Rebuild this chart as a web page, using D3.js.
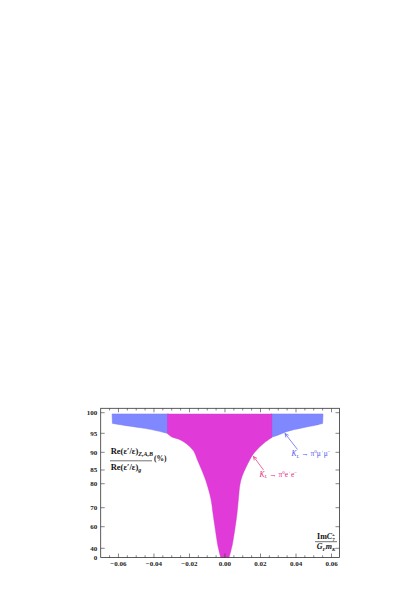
<!DOCTYPE html>
<html><head><meta charset="utf-8">
<script src="https://cdn.jsdelivr.net/npm/d3@7"></script>
<style>body{margin:0;background:#fff}svg{display:block}</style>
</head><body>
<script>
// ---- data ----
const xTicks = [-0.06,-0.04,-0.02,0,0.02,0.04,0.06];
const xTickLabels = ["\u22120.06","\u22120.04","\u22120.02","0.00","0.02","0.04","0.06"];
const yTicks = [100,95,90,85,80,70,60,40,0];
const yTickLabels = ["100","95","90","85","80","70","60","40","0"];
// K_L -> pi0 e+ e- region (magenta): lower boundary, left and right branches
const eeTop = 99.7;
const eeLeft = [[-0.0324,94.95],[-0.0302,94.1],[-0.0264,93.5],[-0.0227,92.6],[-0.0199,91.5],[-0.0174,90.15],[-0.0155,87.8],[-0.0131,85.0],[-0.0109,81.35],[-0.0092,77.4],[-0.0078,73.2],[-0.0068,67.2],[-0.0054,56.9],[-0.0041,43.1],[-0.0024,0]];
const eeRight = [[0.0264,93.9],[0.0214,92.2],[0.0158,89.4],[0.0120,85.9],[0.0097,82.8],[0.0084,79.5],[0.0077,74.6],[0.0068,67.1],[0.0055,56.9],[0.0041,43.1],[0.0023,0]];
// K_L -> pi0 mu+ mu- region (blue): lower boundary, outer parts
const mmTop = 99.7;
const mmLeft = [[-0.0634,97.4],[-0.0546,96.8],[-0.0452,96.2],[-0.0377,95.55],[-0.0318,94.9]];
const mmRight = [[0.0258,93.9],[0.0308,94.7],[0.0346,95.4],[0.0439,96.35],[0.0514,97.0],[0.0550,97.4]];

// ---- layout ----
const W=420,H=595;
const L=100.7,R=339.5,T=408.3,B=557.5,PH=B-T;
const svg=d3.select("body").append("svg").attr("width",W).attr("height",H);
const x=d3.scaleLinear().domain([-0.07,0.0645]).range([L,R]);
const yFrac=[0,0.0617,0.2064,0.3338,0.4946,0.5865,0.7051,0.8324,0.9705,1];
const y=d3.scaleLinear().domain([0,40,60,70,80,85,90,95,100,101.1]).range(yFrac.map(f=>B-f*PH));

const curve=d3.line().x(d=>x(d[0])).y(d=>y(d[1])).curve(d3.curveCatmullRom.alpha(0.5));
const cont=pts=>"L"+curve(pts).slice(1);

// blue regions
const bl = "M"+x(mmLeft[0][0]-0.0002)+","+y(mmTop)+"L"+x(mmLeft[mmLeft.length-1][0])+","+y(mmTop)
  + cont(mmLeft.slice().reverse()) + "Z";
const br = "M"+x(mmRight[0][0])+","+y(mmTop)+"L"+x(mmRight[mmRight.length-1][0]+0.0002)+","+y(mmTop)
  + cont(mmRight.slice().reverse()) + "Z";
[bl,br].forEach(d=>svg.append("path").attr("d",d).attr("fill","#8088ff").attr("stroke","#7279f2")
  .attr("stroke-width",0.5).attr("stroke-linejoin","round"));

const mg = "M"+x(eeLeft[0][0])+","+y(eeTop)+"L"+x(eeRight[0][0])+","+y(eeTop)
  + cont(eeRight) + cont(eeLeft.slice().reverse()) + "Z";
svg.append("path").attr("d",mg).attr("fill","#e03ad8").attr("stroke","#cc36c6").attr("stroke-width",0.4);

// frame
svg.append("rect").attr("x",L).attr("y",T).attr("width",R-L).attr("height",PH)
  .attr("fill","none").attr("stroke","#333").attr("stroke-width",0.8);

// ticks
const g=svg.append("g").attr("stroke","#333").attr("stroke-width",0.6);
const minor=d3.range(-0.07,0.0646,0.005);
minor.forEach(v=>{
  const isMaj = xTicks.some(t=>Math.abs(t-v)<1e-6);
  const len = isMaj?4:2.2;
  const px=x(v);
  if(px<L+0.5||px>R-0.5) return;
  g.append("line").attr("x1",px).attr("x2",px).attr("y1",B).attr("y2",B-len);
  g.append("line").attr("x1",px).attr("x2",px).attr("y1",T).attr("y2",T+len);
});
yTicks.forEach(v=>{
  const py=y(v);
  if(py>B-0.5) return;
  g.append("line").attr("x1",L).attr("x2",L+4).attr("y1",py).attr("y2",py);
  g.append("line").attr("x1",R).attr("x2",R-4).attr("y1",py).attr("y2",py);
});
const fnt="'Liberation Serif','DejaVu Serif',serif";
svg.append("g").selectAll("text").data(xTicks).join("text")
  .attr("x",d=>x(d)).attr("y",B+8.5).attr("text-anchor","middle")
  .attr("font-family",fnt).attr("font-size",7).attr("font-weight","bold").attr("fill","#222")
  .text((d,i)=>xTickLabels[i]);
svg.append("g").selectAll("text").data(yTicks).join("text")
  .attr("x",L-3.5).attr("y",d=>y(d)+2.3).attr("text-anchor","end")
  .attr("font-family",fnt).attr("font-size",7).attr("font-weight","bold").attr("fill","#222")
  .text((d,i)=>yTickLabels[i]);

// y axis label (fraction)
const yl=svg.append("g").attr("font-family",fnt).attr("fill","#111");
const num=yl.append("text").attr("x",110.7).attr("y",454).attr("font-size",8.5).attr("font-weight","bold");
num.append("tspan").text("Re(\u03b5\u2032/\u03b5)");
num.append("tspan").attr("dy",2).attr("font-size",6).attr("font-style","italic").text("Z,A,B");
yl.append("line").attr("x1",110).attr("x2",152).attr("y1",460.8).attr("y2",460.8).attr("stroke","#111").attr("stroke-width",0.6);
const den=yl.append("text").attr("x",110.7).attr("y",469.5).attr("font-size",8.5).attr("font-weight","bold");
den.append("tspan").text("Re(\u03b5\u2032/\u03b5)");
den.append("tspan").attr("dy",2).attr("font-size",6).attr("font-style","italic").text("g");
yl.append("text").attr("x",154).attr("y",461).attr("font-size",7.5).attr("font-weight","bold").text("(%)");

// x axis label (fraction)
const xl=svg.append("g").attr("font-family",fnt).attr("fill","#111");
const xn=xl.append("text").attr("x",326).attr("y",539).attr("text-anchor","middle").attr("font-size",8).attr("font-weight","bold");
xn.append("tspan").text("Im");
xn.append("tspan").attr("font-style","italic").text("C");
xn.append("tspan").attr("font-size",5).attr("dy",2).text("7");
xn.append("tspan").attr("font-size",5).attr("dx",-2.6).attr("dy",-5).text("+");
xl.append("line").attr("x1",315).attr("x2",337).attr("y1",541.7).attr("y2",541.7).attr("stroke","#111").attr("stroke-width",0.6);
const xd=xl.append("text").attr("x",326).attr("y",549).attr("text-anchor","middle").attr("font-size",8).attr("font-weight","bold").attr("font-style","italic");
xd.append("tspan").text("G");
xd.append("tspan").attr("font-size",5).attr("dy",1.5).text("F");
xd.append("tspan").attr("dy",-1.5).text("m");
xd.append("tspan").attr("font-size",5).attr("dy",1.5).text("K");

// annotations
function arrow(x1,y1,x2,y2,col){
  const a=Math.atan2(y2-y1,x2-x1), hl=4, ha=0.45;
  svg.append("line").attr("x1",x1).attr("y1",y1).attr("x2",x2).attr("y2",y2).attr("stroke",col).attr("stroke-width",0.7);
  svg.append("path").attr("d",`M${x2-hl*Math.cos(a-ha)},${y2-hl*Math.sin(a-ha)}L${x2},${y2}L${x2-hl*Math.cos(a+ha)},${y2-hl*Math.sin(a+ha)}`)
    .attr("fill","none").attr("stroke",col).attr("stroke-width",0.7);
}
arrow(297.5,449.5,285,433.5,"#4f55ee");
arrow(263.5,470,253.5,456.5,"#e02a7c");
function decay(xp,yp,col,lep){
  const t=svg.append("text").attr("x",xp).attr("y",yp).attr("font-family",fnt).attr("font-size",7.5).attr("fill",col);
  t.append("tspan").attr("font-style","italic").text("K");
  t.append("tspan").attr("font-style","italic").attr("font-size",5).attr("dy",1.5).text("L");
  t.append("tspan").attr("dy",-1.5).text(" \u2192 \u03c0");
  t.append("tspan").attr("font-size",5).attr("dy",-3).text("0");
  t.append("tspan").attr("dy",3).text(lep);
  t.append("tspan").attr("font-size",5).attr("dy",-3).text("+");
  t.append("tspan").attr("dy",3).text(lep);
  t.append("tspan").attr("font-size",5).attr("dy",-3).text("\u2212");
}
decay(291.5,456,"#4f55ee","\u03bc");
decay(259.5,476.5,"#e02a7c","e");
</script>
</body></html>
